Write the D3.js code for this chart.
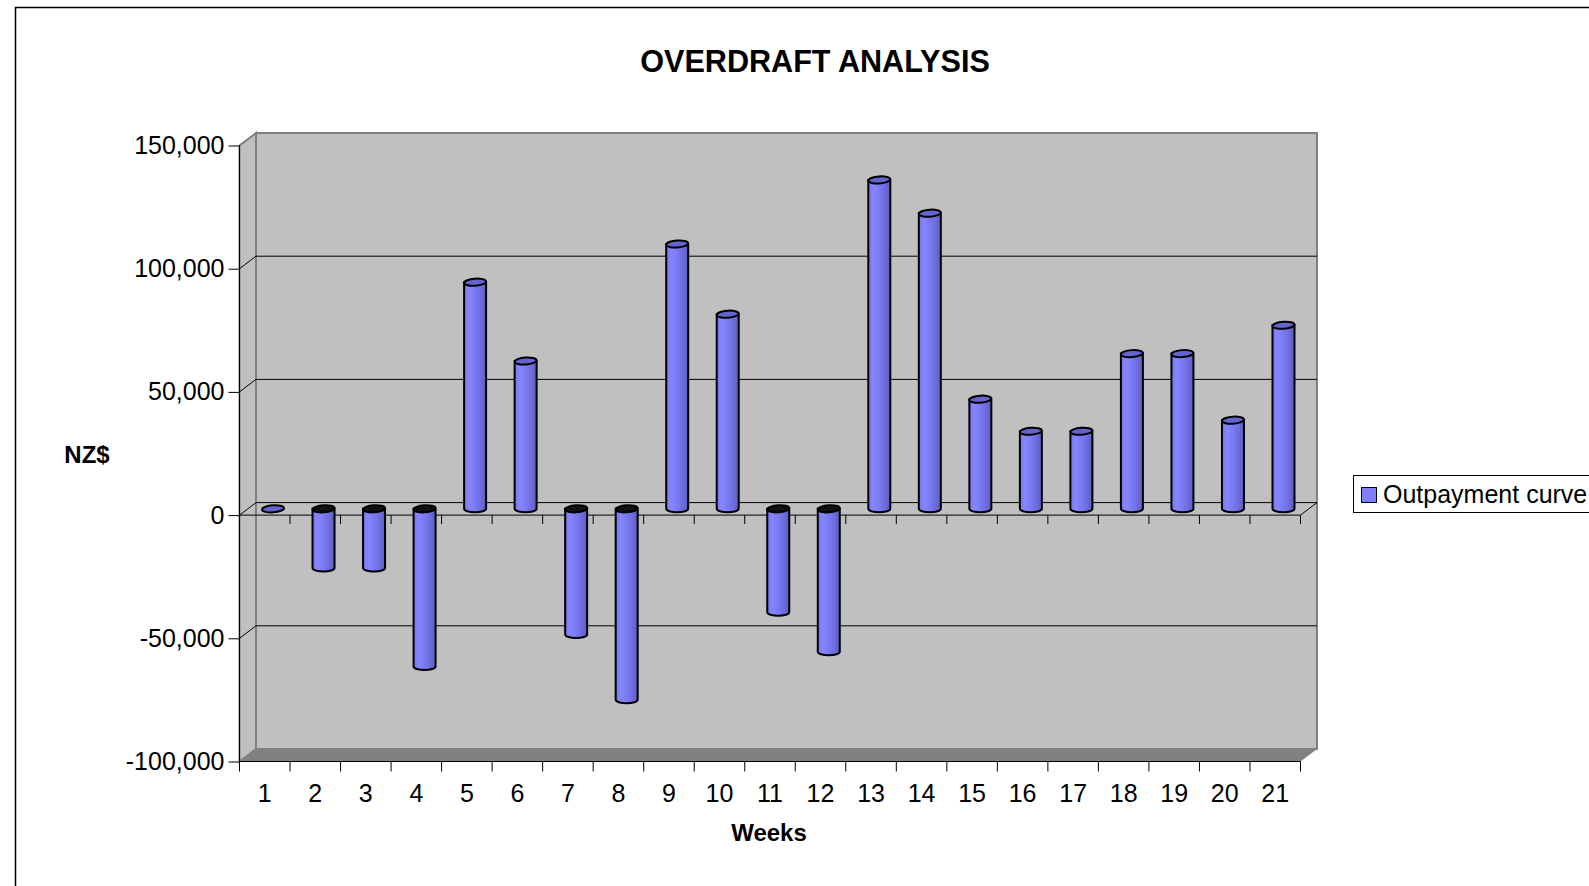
<!DOCTYPE html>
<html>
<head>
<meta charset="utf-8">
<script src="https://cdn.jsdelivr.net/npm/d3@7"></script>
<style>
    body { margin: 0; background: #fff; }
    text { font-family: "Liberation Sans", Arial, sans-serif; fill: #000; }
</style>
</head>
<body>
<div id="chart"></div>
<script>
// chart data
const weeks = ["1","2","3","4","5","6","7","8","9","10","11","12","13","14","15","16","17","18","19","20","21"];
const outpayment = [0, -24000, -24000, -64000, 92000, 60000, -51000, -77500, 107500, 79000,
                    -42000, -58000, 133500, 120000, 44500, 31500, 31500, 63000, 63000, 36000, 74500];
const yTicks = [-100000, -50000, 0, 50000, 100000, 150000];
const gridValues = [-50000, 0, 50000, 100000];

const W = 1589, H = 886;
const plot = {left: 239.5, right: 1300.5, top: 145.5, bottom: 761.5};
// 3d depth offset of the back wall
const dx = 16.5, dy = -12.5;

const svg = d3.select("#chart").append("svg")
    .attr("width", W)
    .attr("height", H);

const defs = svg.append("defs");
const grad = defs.append("linearGradient")
    .attr("id", "cyl")
    .attr("x1", "0%").attr("x2", "100%")
    .attr("y1", "0%").attr("y2", "0%");
[["0%", "#7474ec"], ["22%", "#8686ff"], ["50%", "#7a7af2"], ["80%", "#6a6ad8"], ["100%", "#5c5cc0"]]
    .forEach(s => grad.append("stop").attr("offset", s[0]).attr("stop-color", s[1]));

// outer frame (runs off the right and bottom)
svg.append("rect")
    .attr("x", 15.5).attr("y", 7.5)
    .attr("width", 1700).attr("height", 1000)
    .attr("fill", "none")
    .attr("stroke", "#000")
    .attr("stroke-width", 1.5);

const x = d3.scaleBand()
    .domain(weeks)
    .range([plot.left, plot.right]);

const y = d3.scaleLinear()
    .domain([-100000, 150000])
    .range([plot.bottom, plot.top]);

// back wall
svg.append("rect")
    .attr("x", plot.left + dx).attr("y", plot.top + dy)
    .attr("width", plot.right - plot.left).attr("height", plot.bottom - plot.top)
    .attr("fill", "#c0c0c0")
    .attr("stroke", "#808080")
    .attr("stroke-width", 2);

// side wall
svg.append("path")
    .attr("d", `M${plot.left},${plot.top}L${plot.left + dx},${plot.top + dy}L${plot.left + dx},${plot.bottom + dy}L${plot.left},${plot.bottom}Z`)
    .attr("fill", "#c0c0c0")
    .attr("stroke", "#808080")
    .attr("stroke-width", 2);

// floor
svg.append("path")
    .attr("d", `M${plot.left},${plot.bottom}L${plot.left + dx},${plot.bottom + dy}L${plot.right + dx},${plot.bottom + dy}L${plot.right},${plot.bottom}Z`)
    .attr("fill", "#808080")
    .attr("stroke", "none");

// gridlines on side + back wall
svg.append("g").selectAll("path")
    .data(gridValues)
    .join("path")
    .attr("d", d => `M${plot.left},${y(d)}L${plot.left + dx},${y(d) + dy}L${plot.right + dx},${y(d) + dy}`)
    .attr("fill", "none")
    .attr("stroke", "#000")
    .attr("stroke-width", 1);

// zero plane front edge and right side
svg.append("path")
    .attr("d", `M${plot.left},${y(0)}L${plot.right},${y(0)}L${plot.right + dx},${y(0) + dy}`)
    .attr("fill", "none")
    .attr("stroke", "#000")
    .attr("stroke-width", 1);

// ticks hanging from the zero line
svg.append("g").selectAll("line")
    .data(weeks)
    .join("line")
    .attr("x1", d => x(d) + x.bandwidth())
    .attr("x2", d => x(d) + x.bandwidth())
    .attr("y1", y(0))
    .attr("y2", y(0) + 9)
    .attr("stroke", "#000");

// y axis
const yAxis = svg.append("g")
    .attr("transform", `translate(${plot.left},0)`)
    .call(d3.axisLeft(y)
        .tickValues(yTicks)
        .tickSize(11)
        .tickPadding(4)
        .tickFormat(d => d3.format(",")(d).replace("\u2212", "-")));
yAxis.select(".domain").attr("stroke", "#000").attr("d", `M0,${plot.top}V${plot.bottom}`);
yAxis.selectAll("text").style("font-size", "25px");

// x axis along the floor front edge
const xAxis = svg.append("g")
    .attr("transform", `translate(0,${plot.bottom})`)
    .call(d3.axisBottom(x).tickSize(0).tickPadding(23));
xAxis.select(".domain").attr("stroke", "#000").attr("d", `M${plot.left},0H${plot.right}`);
xAxis.selectAll("text").style("font-size", "25px");
xAxis.selectAll("line.edge")
    .data([weeks[0]].concat(weeks))
    .join("line")
    .attr("class", "edge")
    .attr("x1", (d, i) => i == 0 ? plot.left : x(d) + x.bandwidth())
    .attr("x2", (d, i) => i == 0 ? plot.left : x(d) + x.bandwidth())
    .attr("y1", 0)
    .attr("y2", 10)
    .attr("stroke", "#000");

// cylinders
const rx = 11, ry = 3.5;
const bars = svg.append("g").selectAll("g")
    .data(weeks.map((w, i) => ({week: w, value: outpayment[i]})))
    .join("g");

bars.each(function(d){
    const g = d3.select(this);
    const cx = x(d.week) + x.bandwidth() / 2 + dx / 2;
    const yTop = y(Math.max(d.value, 0)) + dy / 2;
    const yBot = y(Math.min(d.value, 0)) + dy / 2;
    if(yBot - yTop > 0.5){
        g.append("path")
            .attr("d", `M${cx - rx},${yTop}L${cx - rx},${yBot}A${rx},${ry} 0 0 0 ${cx + rx},${yBot}L${cx + rx},${yTop}Z`)
            .attr("fill", "url(#cyl)")
            .attr("stroke", "#000")
            .attr("stroke-width", 2);
    }
    g.append("ellipse")
        .attr("cx", cx).attr("cy", yTop)
        .attr("rx", rx).attr("ry", ry)
        .attr("transform", `rotate(-4,${cx},${yTop})`)
        .attr("fill", d.value < 0 ? "#111" : "#6464d0")
        .attr("stroke", "#000")
        .attr("stroke-width", 2);
});

// title and axis titles
svg.append("text")
    .attr("x", 815).attr("y", 72)
    .attr("text-anchor", "middle")
    .style("font-size", "30.6px")
    .style("font-weight", "bold")
    .text("OVERDRAFT ANALYSIS");

svg.append("text")
    .attr("x", 87).attr("y", 463)
    .attr("text-anchor", "middle")
    .style("font-size", "24px")
    .style("font-weight", "bold")
    .text("NZ$");

svg.append("text")
    .attr("x", 769).attr("y", 841)
    .attr("text-anchor", "middle")
    .style("font-size", "24px")
    .style("font-weight", "bold")
    .text("Weeks");

// legend
const legend = svg.append("g");
legend.append("rect")
    .attr("x", 1353.5).attr("y", 475.5)
    .attr("width", 300).attr("height", 37)
    .attr("fill", "#fff")
    .attr("stroke", "#000");
legend.append("rect")
    .attr("x", 1361.5).attr("y", 487.5)
    .attr("width", 15).attr("height", 15)
    .attr("fill", "#8080ff")
    .attr("stroke", "#000");
legend.append("text")
    .attr("x", 1383).attr("y", 503)
    .style("font-size", "25px")
    .text("Outpayment curve");
</script>
</body>
</html>
